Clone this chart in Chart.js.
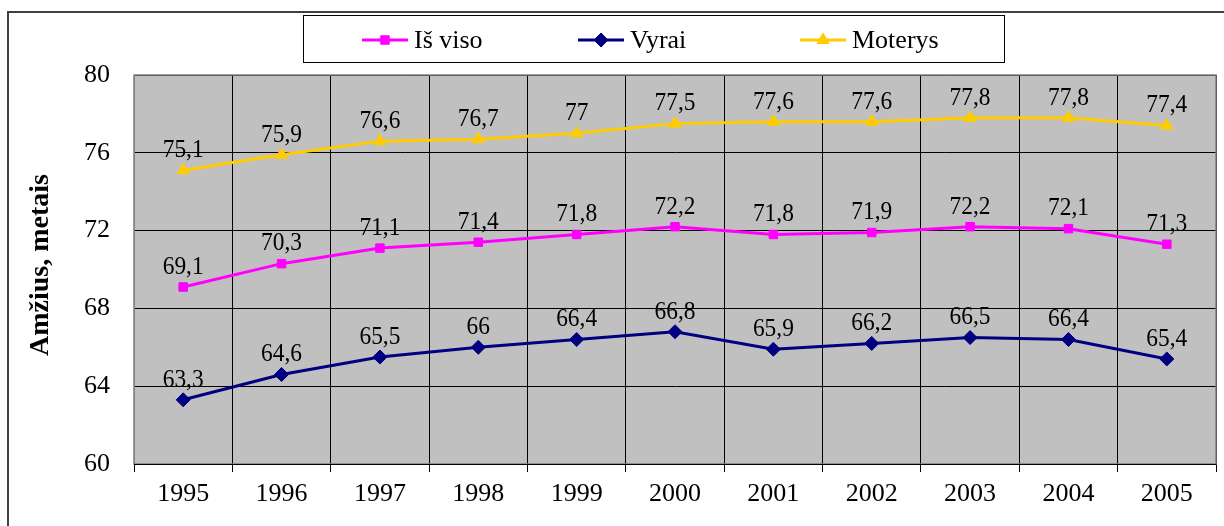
<!DOCTYPE html>
<html><head><meta charset="utf-8">
<script src="https://cdn.jsdelivr.net/npm/chart.js@4/dist/chart.umd.min.js"></script>
<style>html,body{margin:0;padding:0;background:#fff;}#wrap{width:1224px;height:526px;position:relative;}</style>
</head><body><div id="wrap"><canvas id="c" width="1224" height="526"></canvas></div>
<script>
const categories = ['1995','1996','1997','1998','1999','2000','2001','2002','2003','2004','2005'];
const isViso  = [69.1,70.3,71.1,71.4,71.8,72.2,71.8,71.9,72.2,72.1,71.3];
const vyrai   = [63.3,64.6,65.5,66,66.4,66.8,65.9,66.2,66.5,66.4,65.4];
const moterys = [75.1,75.9,76.6,76.7,77,77.5,77.6,77.6,77.8,77.8,77.4];
const seriesNames = ['Iš viso','Vyrai','Moterys'];
const yTitle = 'Amžius, metais';

const FONT = '"Liberation Serif", "Times New Roman", serif';
const colors = ['#FF00FF','#000080','#FFCC00'];
const styles = ['rect','rectRot','triangle'];
const radii = [6,7,7];

const fmt = v => String(v).replace('.', ',');

const extras = {
  id:'extras',
  beforeDraw(chart){
    const {ctx, chartArea:a} = chart;
    ctx.save();
    ctx.fillStyle = '#C0C0C0';
    ctx.fillRect(a.left, a.top, a.right-a.left, a.bottom-a.top);
    ctx.restore();
  },
  afterDatasetsDraw(chart){
    const ctx = chart.ctx;
    ctx.save();
    ctx.font = '26px ' + FONT;
    ctx.fillStyle = '#000';
    ctx.textAlign = 'center';
    ctx.textBaseline = 'middle';
    chart.data.datasets.forEach((ds, di) => {
      const meta = chart.getDatasetMeta(di);
      meta.data.forEach((pt, i) => {
        ctx.save();
        ctx.translate(pt.x, pt.y - 20);
        ctx.scale(0.9, 1);
        ctx.fillText(fmt(ds.data[i]), 0, 0);
        ctx.restore();
      });
    });
    ctx.restore();
  },
  afterDraw(chart){
    const {ctx, chartArea:a} = chart;
    ctx.save();
    // plot border
    ctx.strokeStyle = '#808080';
    ctx.lineWidth = 1.5;
    ctx.strokeRect(a.left, a.top, a.right-a.left, a.bottom-a.top);
    ctx.strokeStyle = '#000';
    ctx.lineWidth = 1;
    ctx.beginPath(); ctx.moveTo(a.left, a.bottom+0.5); ctx.lineTo(a.right, a.bottom+0.5); ctx.stroke();
    // outer frame
    ctx.strokeStyle = '#404040';
    ctx.lineWidth = 2;
    ctx.beginPath();
    ctx.moveTo(8, 540); ctx.lineTo(8, 12); ctx.lineTo(1240, 12);
    ctx.stroke();
    // legend box
    ctx.strokeStyle = '#000';
    ctx.lineWidth = 1;
    ctx.fillStyle = '#fff';
    ctx.fillRect(303.5, 15.5, 701, 47);
    ctx.strokeRect(303.5, 15.5, 701, 47);
    const items = [{x:362},{x:578},{x:800}];
    ctx.font = '26px ' + FONT;
    ctx.textBaseline = 'middle';
    ctx.textAlign = 'left';
    items.forEach((it, i) => {
      const y = 40;
      ctx.strokeStyle = colors[i];
      ctx.lineWidth = 3;
      ctx.beginPath(); ctx.moveTo(it.x, y); ctx.lineTo(it.x+46, y); ctx.stroke();
      ctx.fillStyle = colors[i];
      ctx.strokeStyle = colors[i];
      ctx.lineWidth = 1;
      Chart.helpers.drawPoint(ctx, {pointStyle: styles[i], radius: radii[i], borderWidth:1}, it.x+23, y);
      ctx.fillStyle = '#000';
      ctx.fillText(seriesNames[i], it.x+52, y+1);
    });
    // y title
    ctx.translate(41, 265);
    ctx.rotate(-Math.PI/2);
    ctx.font = 'bold 28px ' + FONT;
    ctx.textAlign = 'center';
    ctx.textBaseline = 'middle';
    ctx.fillStyle = '#000';
    ctx.fillText(yTitle, 0, 0);
    ctx.restore();
  }
};

const series = [isViso, vyrai, moterys];
new Chart(document.getElementById('c'), {
  type:'line',
  data:{
    labels: categories,
    datasets: series.map((d, i) => ({
      label: seriesNames[i],
      data: d,
      borderColor: colors[i],
      backgroundColor: colors[i],
      borderWidth: 3,
      pointStyle: styles[i],
      pointRadius: radii[i],
      pointHoverRadius: radii[i],
      pointBorderWidth: 1,
      tension: 0
    }))
  },
  options:{
    responsive:false,
    animation:false,
    devicePixelRatio:1,
    layout:{padding:{left:0, right:4, top:75, bottom:0}},
    plugins:{legend:{display:false}, tooltip:{enabled:false}},
    scales:{
      x:{
        offset:true,
        grid:{offset:true, color:'#000', lineWidth:1, tickLength:8, drawTicks:true},
        border:{display:true, color:'#000', width:1},
        ticks:{font:{family:FONT, size:26}, color:'#000', padding:7, maxRotation:0},
        afterFit(s){ s.height = 62; }
      },
      y:{
        min:60, max:80,
        grid:{color:'#000', lineWidth:1, drawTicks:false},
        border:{display:true, color:'#808080'},
        ticks:{stepSize:4, font:{family:FONT, size:26}, color:'#000', padding:24},
        afterFit(s){ s.width = 134; }
      }
    }
  },
  plugins:[extras]
});
</script>
</body></html>
